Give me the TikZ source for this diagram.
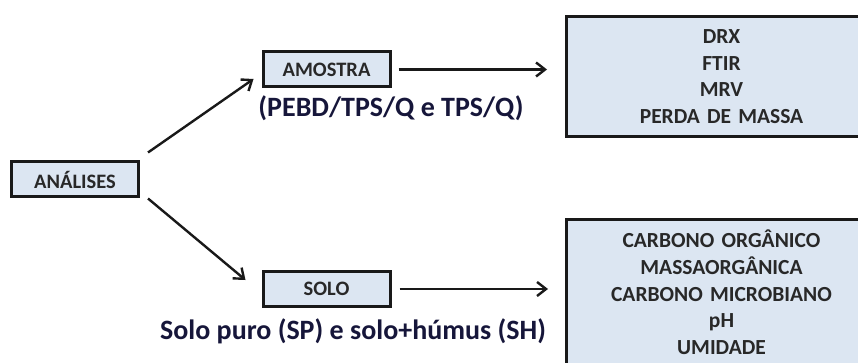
\documentclass[tikz,border=0pt]{standalone}
\usepackage{fontspec}
\setmainfont{Carlito}
\usetikzlibrary{arrows.meta, positioning, calc}

\definecolor{boxfill}{RGB}{220,230,242}
\definecolor{boxtext}{RGB}{40,40,40}
\definecolor{labelnavy}{RGB}{22,22,58}

\begin{document}
\begin{tikzpicture}[
  x=1pt, y=-1pt,
  every node/.style = {
    inner sep=0pt,
    align=center
  },
  smallbox/.style = {draw=black!90, fill=boxfill, line width=3pt,
    minimum width=127pt, minimum height=35pt, text=boxtext,
    font=\fontsize{20.5}{23}\selectfont\bfseries},
  listbox/.style = {draw=black!90, fill=boxfill, line width=3pt,
    minimum width=310pt, anchor=north west, text=boxtext,
    font=\fontsize{21.5}{26.7}\selectfont\bfseries},
  caption/.style = {text=labelnavy, font=\fontsize{28}{31}\selectfont\bfseries},
  arrow/.style = {-{Straight Barb[length=9pt, width=14pt, line width=2.4pt]},
    line width=2.4pt, black!90}
]
\useasboundingbox (0,0) rectangle (858,363);

% Left: starting point
\node[smallbox] (analises) at (75,179.5) {ANÁLISES};

% Middle: the two branches
\node[smallbox] (amostra) at (326.5,69.5) {AMOSTRA};
\node[smallbox] (solo) at (326.5,289) {SOLO};

\node[caption] (amostralbl) at (391,108) {(PEBD/TPS/Q e TPS/Q)};
\node[caption] (sololbl) at (353,331) {Solo puro (SP) e solo+húmus (SH)};

% Right: lists of analyses (cut by the page edge)
\node[listbox, minimum height=120pt, text width=300pt] (listA) at (565,15)
  {DRX\\FTIR\\MRV\\PERDA DE MASSA};
\node[listbox, minimum height=146pt, text width=300pt] (listB) at (565,218)
  {CARBONO ORGÂNICO\\MASSAORGÂNICA\\CARBONO MICROBIANO\\pH\\UMIDADE};

% === ARROWS ===
\draw[arrow] ($(analises.north east)+(8,-8)$) -- ($(amostra.west)+(-8,9.5)$);
\draw[arrow] ($(analises.south east)+(8,0)$) -- ($(solo.west)+(-16,-9)$);
\draw[arrow, shorten <=7pt, shorten >=18pt] (amostra.east) -- (amostra.east -| listA.west);
\draw[arrow, shorten <=8pt, shorten >=17pt] (solo.east) -- (solo.east -| listB.west);

\end{tikzpicture}
\end{document}
